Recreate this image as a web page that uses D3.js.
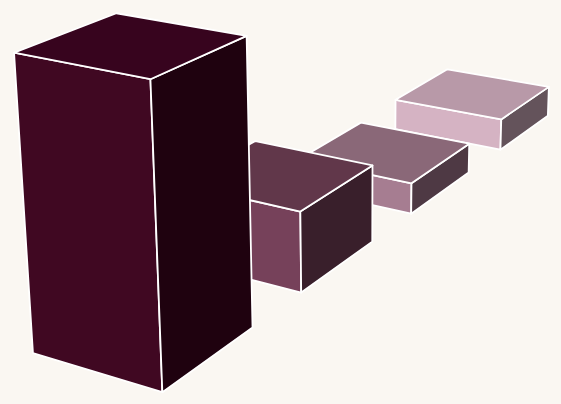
<!DOCTYPE html>
<html><head><meta charset="utf-8"><script src="https://cdn.jsdelivr.net/npm/d3@7"></script>
<style>html,body{margin:0;background:#faf7f2;overflow:hidden}svg{display:block}</style></head>
<body><svg id="chart" width="561" height="404"></svg>
<script>
const categories = ["A", "B", "C", "D"];
const values = [100, 30, 12.5, 13.6];
const leftColors = ["#400822", "#76415a", "#a67d91", "#d5b3c3"];
const topColors = ["#37041e", "#61374a", "#8a6878", "#b899a8"];
const rightColors = ["#1f020f", "#391f2b", "#4e3944", "#64535b"];

const barWidth = 1.015, gap = 0.62;
const x = d3.scaleBand().domain(categories)
  .range([0, categories.length * barWidth + (categories.length - 1) * gap])
  .paddingInner(gap / (barWidth + gap)).paddingOuter(0);
const z = d3.scaleLinear().domain([0, 100]).range([0, 100]);

// Perspective camera: homogeneous projection of (x, depth, height)
const cam = { ox: 162.933, oy: 391.2, ax: 108.672, ay: -37.147, bx: -127.150, by: -22.310,
              cx: -0.205732, cy: -3.160, wx: 0.080280, wy: 0.047097, wz: -0.000577,
              zoom: 1.005, midX: 280, midY: 200 };
function project([u, v, h]) {
  const w = 1 + cam.wx * u + cam.wy * v + cam.wz * h;
  const px = (cam.ox + cam.ax * u + cam.bx * v + cam.cx * h) / w;
  const py = (cam.oy + cam.ay * u + cam.by * v + cam.cy * h) / w;
  return [cam.midX + (px - cam.midX) * cam.zoom, cam.midY + (py - cam.midY) * cam.zoom];
}
const path = d3.line().curve(d3.curveLinearClosed);
const svg = d3.select("#chart");

const bars = categories.map((c, i) => ({ c, v: values[i], i })).reverse();
const g = svg.selectAll("g.bar").data(bars).join("g").attr("class", "bar");

function faces(d) {
  const x0 = x(d.c), x1 = x0 + x.bandwidth(), t = z(d.v);
  return [
    { fill: leftColors[d.i],  pts: [[x0,1,0],[x0,0,0],[x0,0,t],[x0,1,t]] },
    { fill: rightColors[d.i], pts: [[x0,0,0],[x1,0,0],[x1,0,t],[x0,0,t]] },
    { fill: topColors[d.i],   pts: [[x0,0,t],[x1,0,t],[x1,1,t],[x0,1,t]] }
  ];
}
g.selectAll("path").data(faces).join("path")
  .attr("d", f => path(f.pts.map(project)))
  .attr("fill", f => f.fill)
  .attr("stroke", "#fff")
  .attr("stroke-width", 1.8)
  .attr("stroke-linejoin", "round");
</script></body></html>
